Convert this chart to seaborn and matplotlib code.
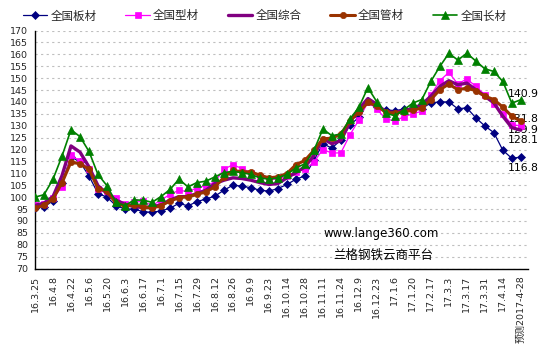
import numpy as np
import pandas as pd
import matplotlib
matplotlib.use("Agg")
import matplotlib.pyplot as plt
from matplotlib.font_manager import FontProperties
import seaborn as sns

# ---------------- data ----------------
tick_labels = ["16.3.25", "16.4.8", "16.4.22", "16.5.6", "16.5.20", "16.6.3", "16.6.17",
               "16.7.1", "16.7.15", "16.7.29", "16.8.12", "16.8.26", "16.9.9", "16.9.23",
               "16.10.14", "16.10.28", "16.11.11", "16.11.24", "16.12.9", "16.12.23",
               "17.1.6", "17.1.20", "17.2.17", "17.3.3", "17.3.17", "17.3.31", "17.4.14",
               "预测2017-4-28"]

series_names = ["全国板材", "全国型材", "全国综合", "全国管材", "全国长材"]

plate = [95.5, 95.8, 98.5, 106.0, 117.0, 114.7, 108.9, 101.5, 100.0, 96.4,
         95.0, 95.0, 93.9, 93.6, 94.2, 95.3, 97.4, 96.3, 98.1, 99.2,
         100.4, 102.9, 105.0, 104.6, 103.9, 102.9, 102.5, 103.6, 105.3, 107.5,
         108.9, 115.4, 122.4, 120.6, 124.0, 130.3, 133.5, 140.5, 137.9, 136.7,
         136.3, 137.0, 137.2, 137.2, 139.6, 140.0, 140.0, 137.1, 137.5, 133.3,
         129.9, 127.1, 119.7, 116.3, 116.8]

section = [96.5, 97.0, 99.5, 104.3, 117.5, 115.2, 111.7, 103.6, 102.5, 99.7,
           97.0, 97.8, 98.3, 96.4, 98.75, 101.1, 102.9, 102.25, 103.9, 104.75,
           106.4, 111.7, 113.6, 112.0, 110.3, 108.5, 107.5, 107.5, 108.9, 110.6,
           111.7, 114.75, 120.0, 118.5, 118.6, 126.1, 132.4, 140.0, 137.0, 132.8,
           132.0, 133.75, 135.0, 136.1, 142.8, 148.9, 152.4, 147.5, 149.7, 146.5,
           143.0, 139.2, 135.0, 130.5, 129.9]

composite = [96.5, 97.5, 100.2, 109.0, 121.5, 118.9, 112.7, 104.8, 101.5, 98.7,
             97.0, 96.0, 95.6, 96.0, 96.7, 98.75, 100.2, 100.2, 101.5, 102.9,
             105.7, 107.1, 108.1, 107.8, 107.1, 106.1, 105.3, 105.7, 108.1, 110.3,
             112.7, 117.5, 124.5, 122.4, 123.75, 131.4, 137.0, 141.4, 139.0, 135.8,
             135.6, 136.25, 137.2, 138.9, 142.4, 146.5, 148.9, 147.2, 147.9, 145.1,
             142.4, 139.6, 134.0, 129.2, 128.1]

pipe = [95.5, 96.5, 99.2, 106.0, 114.7, 114.0, 111.7, 103.6, 102.5, 97.4,
        96.2, 96.7, 96.0, 95.3, 96.4, 98.3, 99.75, 100.2, 101.1, 102.25,
        104.3, 108.3, 111.25, 110.6, 110.6, 109.2, 108.1, 108.5, 109.9, 113.6,
        115.4, 119.6, 124.5, 124.75, 126.5, 132.1, 135.6, 139.75, 138.3, 135.6,
        135.3, 135.8, 136.5, 137.5, 141.0, 145.1, 147.5, 145.1, 145.8, 144.7,
        142.4, 141.0, 137.8, 134.0, 131.8]

long_steel = [100.0, 101.0, 107.5, 117.2, 128.3, 125.4, 119.2, 109.5, 104.8, 97.8,
              96.4, 98.75, 98.75, 97.8, 100.2, 103.2, 107.5, 104.3, 106.1, 106.7,
              108.5, 110.3, 110.8, 110.3, 109.5, 108.1, 107.5, 108.1, 109.5, 112.25,
              114.0, 119.6, 128.6, 125.8, 126.5, 132.8, 137.7, 146.0, 140.0, 135.2,
              134.2, 136.7, 139.5, 141.0, 148.6, 154.9, 160.4, 157.6, 160.4, 157.2,
              153.9, 152.8, 148.6, 139.5, 140.9]

# ---------------- style ----------------
sns.set_theme(style="white")
plt.rcParams["font.family"] = ["DejaVu Sans", "Noto Sans CJK SC"]

W, H = 542, 360
fig = plt.figure(figsize=(W / 100, H / 100), dpi=100)
top_px, bot_px, left_px, right_px = 30.5, 268.5, 35, 528
ax = fig.add_axes([left_px / W, 1 - bot_px / H, (right_px - left_px) / W, (bot_px - top_px) / H])

n = len(plate)
df = pd.DataFrame({"idx": np.arange(n), "全国板材": plate, "全国型材": section,
                   "全国综合": composite, "全国管材": pipe, "全国长材": long_steel})

styles = {
    "全国板材": dict(color="#000080", lw=0.9, marker="D", ms=4.3, z=3),
    "全国型材": dict(color="#FF00FF", lw=0.9, marker="s", ms=5.0, z=4),
    "全国综合": dict(color="#800080", lw=2.4, marker=None, ms=0, z=5),
    "全国管材": dict(color="#993300", lw=2.2, marker="o", ms=4.5, z=6),
    "全国长材": dict(color="#008000", lw=1.2, marker="^", ms=5.5, z=7),
}

handles = []
for name in series_names:
    st = styles[name]
    kw = dict(color=st["color"], linewidth=st["lw"], zorder=st["z"])
    if st["marker"]:
        kw.update(marker=st["marker"], markersize=st["ms"],
                  markerfacecolor=st["color"], markeredgecolor=st["color"], markeredgewidth=0.5)
    sns.lineplot(data=df, x="idx", y=name, ax=ax, label=name, legend=False, **kw)
    handles.append(ax.lines[-1])

ax.set_xlim(0, 54.8)
ax.set_ylim(70, 170)
ax.set_yticks(np.arange(70, 171, 5))
ax.set_xticks(np.arange(0, n, 2))
ax.set_xticklabels(tick_labels, rotation=90, fontsize=6.8)
ax.tick_params(axis="y", labelsize=6.8, direction="out", length=3, width=0.8, color="black", pad=2)
ax.tick_params(axis="x", direction="out", length=3, width=0.8, color="black", pad=2)
ax.set_xlabel("")
ax.set_ylabel("")

ax.yaxis.grid(True, linestyle=(0, (2, 3)), color="#BFBFBF", linewidth=0.8)
ax.xaxis.grid(False)
for s in ["top", "right"]:
    ax.spines[s].set_visible(False)
for s in ["left", "bottom"]:
    ax.spines[s].set_color("black")
    ax.spines[s].set_linewidth(1.0)

# end-point labels
label_offsets = {"全国长材": 5.5, "全国管材": 2.5, "全国型材": -4.0, "全国综合": -10.0, "全国板材": -11}
for name in series_names:
    v = df[name].iloc[-1]
    ax.annotate(f"{v:.1f}", xy=(n - 1, v), xytext=(-13, label_offsets[name]),
                textcoords="offset pixels", ha="left", va="center", fontsize=7.8,
                color="black", zorder=1, annotation_clip=False)

# legend
leg = fig.legend(handles, series_names, loc="center left", bbox_to_anchor=(23 / W, 1 - 16 / H),
                 ncol=5, frameon=False, prop=FontProperties(family="Noto Sans CJK SC", size=8.3),
                 handlelength=2.1, handletextpad=0.3, columnspacing=2.5,
                 borderpad=0, borderaxespad=0)

# watermark
fig.text(381 / W, 1 - 233 / H, "www.lange360.com", ha="center", va="center",
         fontsize=8.5, color="black", family="DejaVu Sans")
fig.text(383 / W, 1 - 255 / H, "兰格钢铁云商平台", ha="center", va="center",
         fontsize=9, color="black", family="Noto Sans CJK SC")

fig.savefig("out.png", dpi=100)
